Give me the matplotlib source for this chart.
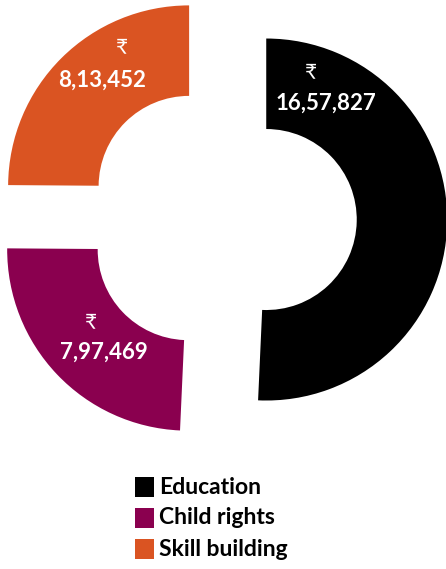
import matplotlib.pyplot as plt
from matplotlib.patches import Rectangle

# data
categories = ["Education", "Child rights", "Skill building"]
amounts = [1657827, 797469, 813452]
amount_labels = ["16,57,827", "7,97,469", "8,13,452"]
colors = ["#000000", "#8A004F", "#DA5422"]

W, H = 446, 569
fig = plt.figure(figsize=(W / 100, H / 100), dpi=100)
ax = fig.add_axes([0, 0, 1, 1])

ax.pie(amounts, colors=colors, startangle=90, counterclock=False,
       radius=1.0, explode=[0.25] * 3,
       wedgeprops=dict(width=0.5, linewidth=0))

# pie center at pixel (221, 218.5), radius 181 px
scale = 181.0
cx_px, cy_px = 221.0, 218.5
ax.set_aspect("auto")
ax.set_xlim(-cx_px / scale, (W - cx_px) / scale)
ax.set_ylim(-(H - cy_px) / scale, cy_px / scale)
ax.axis("off")

fam = ["Lato", "DejaVu Sans"]
# label spots (rupee sign line, amount line) for each wedge
rupee_pos = [(0.497, 0.809), (-0.718, -0.572), (-0.547, 0.948)]
value_pos = [(0.580, 0.638), (-0.646, -0.738), (-0.657, 0.765)]
for (rx, ry), (vx, vy), lab in zip(rupee_pos, value_pos, amount_labels):
    ax.text(rx, ry, "\u20b9", color="white", fontsize=15, family=fam,
            ha="center", va="center")
    ax.text(vx, vy, lab, color="white", fontsize=16, fontweight="bold",
            family=fam, ha="center", va="center")

# legend drawn at the bottom
for i, (name, c) in enumerate(zip(categories, colors)):
    yc = 487 + i * 31
    fig.add_artist(Rectangle((135 / W, 1 - (yc + 10) / H), 19 / W, 20 / H,
                             transform=fig.transFigure, color=c, lw=0))
    fig.text(159 / W, 1 - yc / H, name, fontsize=16.5, fontweight="bold",
             family=fam, ha="left", va="center", color="black")

fig.savefig("out.png", dpi=100)
